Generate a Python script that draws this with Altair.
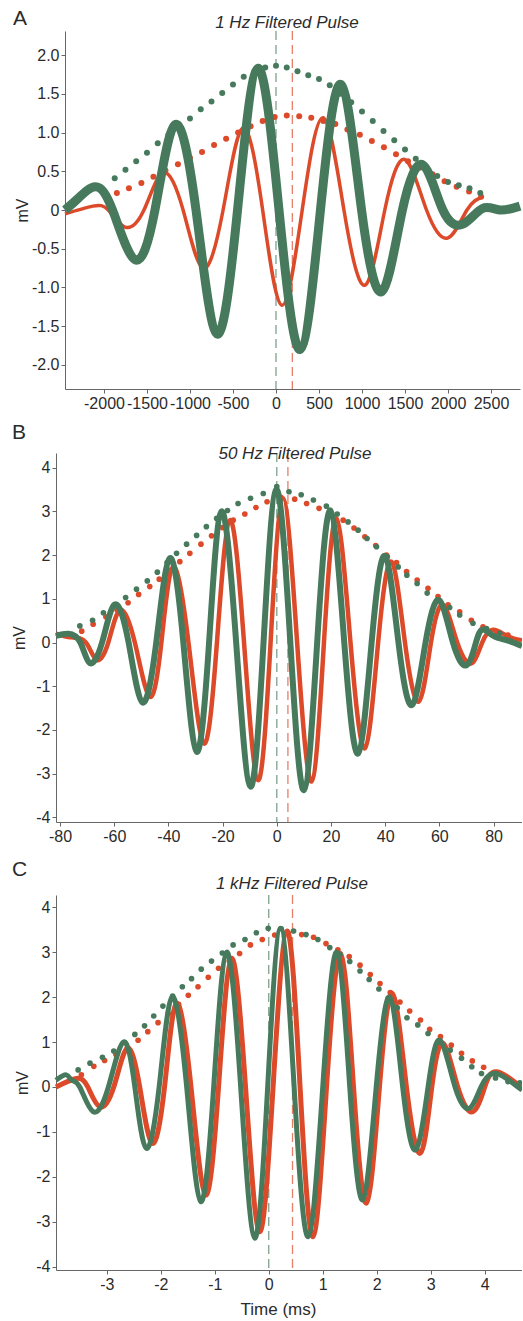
import altair as alt
import pandas as pd

RED = "#dc4a2a"
GREEN = "#477a5c"
FONT = "Liberation Sans"
TXT = "#2b2b2b"

# ---------------- Panel A : 1 Hz ----------------
A_RED_T = [-2453, -2130, -1950, -1756, -1535, -1314, -1080, -849, -615, -384, -155, 70, 305, 547, 790, 1035, 1265, 1500, 1750, 2000, 2220, 2400]
A_RED_V = [-0.05, 0.05, 0.0, -0.22, 0.0, 0.48, 0.0, -0.75, 0.0, 1.06, 0.0, -1.23, 0.0, 1.19, 0.0, -0.97, 0.0, 0.65, 0.0, -0.36, 0.0, 0.17]
A_GREEN_T = [-2453, -2300, -2100, -1900, -1640, -1407, -1174, -930, -686, -447, -209, 35, 279, 517, 756, 995, 1233, 1470, 1709, 1940, 2177, 2400, 2600, 2837]
A_GREEN_V = [0.0, 0.15, 0.3, 0.0, -0.64, 0.0, 1.1, 0.0, -1.6, 0.0, 1.83, 0.0, -1.8, 0.0, 1.62, 0.0, -1.05, 0.0, 0.58, 0.0, -0.18, 0.02, 0.0, 0.05]
A_RDOT_T = [-1850, -1710, -1565, -1425, -1285, -1140, -1000, -860, -720, -580, -440, -295, -155, -15, 125, 270, 410, 550, 690, 830, 975, 1115, 1255, 1395, 1535, 1680, 1820, 1960, 2100, 2245, 2385]
A_RDOT_V = [0.22, 0.28, 0.35, 0.43, 0.51, 0.59, 0.67, 0.75, 0.84, 0.92, 1.00, 1.08, 1.15, 1.20, 1.22, 1.21, 1.19, 1.15, 1.11, 1.04, 0.97, 0.89, 0.81, 0.72, 0.63, 0.55, 0.46, 0.37, 0.30, 0.24, 0.17]
A_GDOT_T = [-1875, -1750, -1625, -1500, -1375, -1250, -1125, -1000, -875, -750, -625, -500, -375, -250, -125, 0, 125, 250, 375, 500, 625, 750, 875, 1000, 1125, 1250, 1375, 1500, 1625, 1750, 1875, 2000, 2125, 2250, 2375]
A_GDOT_V = [0.41, 0.52, 0.63, 0.74, 0.86, 0.97, 1.07, 1.18, 1.30, 1.40, 1.51, 1.62, 1.72, 1.79, 1.84, 1.86, 1.84, 1.79, 1.74, 1.69, 1.61, 1.50, 1.39, 1.27, 1.15, 1.02, 0.90, 0.78, 0.66, 0.55, 0.44, 0.36, 0.32, 0.28, 0.22]
A_XTICKS = [-2000, -1500, -1000, -500, 0, 500, 1000, 1500, 2000, 2500]
A_YTICKS = [-2.0, -1.5, -1.0, -0.5, 0, 0.5, 1.0, 1.5, 2.0]
A_PEAKS = [0, 190]

# ---------------- Panel B : 50 Hz ----------------
B_RED_T = [-81.5, -76, -70.5, -66.5, -62.2, -57.9, -52.4, -46.9, -42.6, -38.3, -32.6, -26.9, -22.1, -17.3, -12.1, -6.9, -2.3, 2.3, 7.5, 12.8, 17.4, 22.0, 27.2, 32.5, 37.4, 42.3, 47.3, 52.4, 56.9, 61.4, 66.6, 71.8, 75.8, 79.8, 85, 90.5]
B_RED_V = [0.2, 0.12, 0.0, -0.40, 0.0, 0.74, 0.0, -1.24, 0.0, 1.73, 0.0, -2.31, 0.0, 2.8, 0.0, -3.15, 0.0, 3.3, 0.0, -3.18, 0.0, 2.84, 0.0, -2.42, 0.0, 1.85, 0.0, -1.35, 0.0, 0.86, 0.0, -0.48, 0.0, 0.29, 0.15, 0.05]
B_GREEN_T = [-81.5, -77, -72.5, -69, -64.5, -59.8, -54.7, -49.6, -44.5, -39.5, -34.5, -29.6, -25, -20.4, -15, -9.7, -4.9, -0.1, 5, 10, 14.9, 19.8, 24.9, 30, 35, 39.9, 44.9, 49.9, 54.9, 59.9, 65, 70, 73.5, 76.1, 80, 85, 90.5]
B_GREEN_V = [0.15, 0.2, 0.0, -0.47, 0.0, 0.87, 0.0, -1.37, 0.0, 1.93, 0.0, -2.5, 0.0, 3.0, 0.0, -3.3, 0.0, 3.5, 0.0, -3.38, 0.0, 3.02, 0.0, -2.54, 0.0, 1.98, 0.0, -1.43, 0.0, 0.97, 0.0, -0.52, 0.0, 0.3, 0.15, 0.05, -0.08]
B_RDOT_T = [-72, -67.8, -63.1, -59, -54.9, -51, -46.9, -43.4, -39.6, -35.8, -32.1, -28, -24.1, -20.1, -16.1, -11.8, -7.7, -3.6, 1.5, 6.6, 11, 15.6, 20, 24.5, 28.5, 32.5, 36.5, 40.5, 44.2, 47.9, 51.8, 55.8, 59.5, 63.2, 67.5, 71.8, 76.1, 81, 85.3]
B_RDOT_V = [0.26, 0.42, 0.59, 0.75, 0.91, 1.1, 1.28, 1.45, 1.65, 1.85, 2.04, 2.25, 2.44, 2.63, 2.80, 2.94, 3.09, 3.22, 3.32, 3.28, 3.18, 3.07, 2.95, 2.80, 2.62, 2.42, 2.22, 2.0, 1.83, 1.62, 1.43, 1.24, 1.05, 0.86, 0.70, 0.51, 0.36, 0.25, 0.17]
B_GDOT_T = [-72.7, -68, -64, -60, -55.8, -51.8, -47.8, -44.1, -40.5, -37, -33.3, -29.6, -26, -22.2, -18.2, -14.3, -9.7, -5, 0, 4.5, 9, 13.5, 18.3, 22.3, 26.3, 30, 33.3, 36.8, 40.8, 44.8, 48, 51.8, 55.5, 59.6, 63.8, 67.5, 72.4, 77.4, 82.3]
B_GDOT_V = [0.38, 0.51, 0.68, 0.85, 1.03, 1.22, 1.41, 1.61, 1.83, 2.04, 2.25, 2.45, 2.65, 2.84, 3.02, 3.18, 3.30, 3.41, 3.57, 3.45, 3.38, 3.26, 3.12, 2.94, 2.76, 2.57, 2.38, 2.19, 1.96, 1.73, 1.54, 1.35, 1.13, 0.96, 0.80, 0.63, 0.44, 0.32, 0.21]
B_XTICKS = [-80, -60, -40, -20, 0, 20, 40, 60, 80]
B_YTICKS = [-4, -3, -2, -1, 0, 1, 2, 3, 4]
B_PEAKS = [0, 4.1]

# ---------------- Panel C : 1 kHz ----------------
C_RED_T = [-3.94, -3.56, -3.35, -3.13, -2.87, -2.62, -2.39, -2.16, -1.93, -1.71, -1.44, -1.17, -0.93, -0.69, -0.43, -0.17, 0.08, 0.34, 0.58, 0.82, 1.07, 1.33, 1.57, 1.81, 2.05, 2.29, 2.55, 2.81, 3.02, 3.23, 3.5, 3.78, 4.0, 4.22, 4.69]
C_RED_V = [0.0, 0.19, 0.0, -0.44, 0.0, 0.86, 0.0, -1.25, 0.0, 1.86, 0.0, -2.4, 0.0, 2.86, 0.0, -3.22, 0.0, 3.47, 0.0, -3.33, 0.0, 2.97, 0.0, -2.58, 0.0, 2.08, 0.0, -1.47, 0.0, 0.97, 0.0, -0.55, 0.0, 0.34, -0.02]
C_GREEN_T = [-3.94, -3.75, -3.65, -3.5, -3.25, -2.97, -2.69, -2.48, -2.27, -2.03, -1.79, -1.52, -1.26, -1.02, -0.78, -0.52, -0.26, -0.02, 0.22, 0.47, 0.73, 1.0, 1.26, 1.5, 1.74, 1.99, 2.24, 2.48, 2.72, 2.95, 3.17, 3.45, 3.72, 3.93, 4.15, 4.40, 4.69]
C_GREEN_V = [0.15, 0.27, 0.15, 0.0, -0.55, 0.0, 1.0, 0.0, -1.36, 0.0, 2.0, 0.0, -2.55, 0.0, 3.0, 0.0, -3.36, 0.0, 3.53, 0.0, -3.33, 0.0, 3.0, 0.0, -2.51, 0.0, 2.0, 0.0, -1.40, 0.0, 1.04, 0.0, -0.47, 0.0, 0.30, 0.19, -0.07]
C_RDOT_T = [-3.47, -3.24, -3.04, -2.83, -2.62, -2.42, -2.24, -2.05, -1.86, -1.67, -1.49, -1.31, -1.12, -0.93, -0.73, -0.54, -0.34, -0.12, 0.11, 0.36, 0.61, 0.83, 1.06, 1.28, 1.49, 1.69, 1.88, 2.06, 2.25, 2.43, 2.61, 2.81, 2.98, 3.18, 3.38, 3.57, 3.77, 3.98, 4.2]
C_RDOT_V = [0.27, 0.46, 0.59, 0.72, 0.86, 1.04, 1.23, 1.43, 1.63, 1.84, 2.04, 2.23, 2.44, 2.64, 2.80, 2.97, 3.16, 3.28, 3.38, 3.42, 3.39, 3.33, 3.19, 3.05, 2.90, 2.71, 2.50, 2.30, 2.10, 1.89, 1.69, 1.49, 1.28, 1.12, 0.93, 0.75, 0.58, 0.44, 0.30]
C_GDOT_T = [-3.53, -3.31, -3.08, -2.87, -2.67, -2.48, -2.30, -2.13, -1.96, -1.78, -1.60, -1.43, -1.25, -1.06, -0.86, -0.66, -0.44, -0.23, -0.01, 0.23, 0.46, 0.69, 0.91, 1.13, 1.32, 1.50, 1.69, 1.86, 2.04, 2.21, 2.38, 2.56, 2.76, 2.95, 3.15, 3.36, 3.57, 3.76, 3.94, 4.2, 4.43, 4.65]
C_GDOT_V = [0.38, 0.53, 0.66, 0.80, 0.99, 1.17, 1.36, 1.58, 1.80, 2.02, 2.23, 2.41, 2.62, 2.80, 2.98, 3.16, 3.28, 3.43, 3.53, 3.52, 3.47, 3.39, 3.28, 3.10, 2.95, 2.79, 2.58, 2.39, 2.18, 1.97, 1.76, 1.54, 1.38, 1.19, 1.0, 0.82, 0.64, 0.45, 0.30, 0.2, 0.12, 0.09]
C_XTICKS = [-3, -2, -1, 0, 1, 2, 3, 4]
C_YTICKS = [-4, -3, -2, -1, 0, 1, 2, 3, 4]
C_PEAKS = [0, 0.44]

DEC_EXPR = "datum.value == 0 ? '0' : (datum.value < 0 ? '-' : '') + format(abs(datum.value), '.1f')"
INT_EXPR = "(datum.value < 0 ? '-' : '') + format(abs(datum.value), 'd')"

TOTAL_W = 466
TOTAL_H = 1239


def df(t, v):
    return pd.DataFrame({"t": t, "v": v})


def panel(red, green, rdot, gdot, peaks, xdom, xrange, ydom, band, yticks, xticks, ylab,
          yoff, mv_x, title, title_xy, letter, letter_xy, red_w, green_w, dot_size,
          xtitle=None):
    top, bottom = band
    xaxis_kw = dict(orient="bottom", values=xticks, labelExpr=INT_EXPR, labelOverlap=False,
                    labelFlush=False, grid=False, tickSize=4, labelPadding=2,
                    labelFontSize=16, offset=bottom - TOTAL_H)
    if xtitle:
        xaxis_kw.update(title=xtitle, titleX=222, titleY=39, titleBaseline="middle",
                        titleAlign="center", titleFontSize=17)
    else:
        xaxis_kw.update(title=None)
    X = alt.X("t:Q", scale=alt.Scale(domain=xdom, nice=False, zero=False, range=xrange),
              axis=alt.Axis(**xaxis_kw))
    Y = alt.Y("v:Q", scale=alt.Scale(domain=ydom, nice=False, zero=False, range=[bottom, top]),
              axis=alt.Axis(orient="left", values=yticks, labelExpr=ylab, grid=False, tickSize=4,
                            labelPadding=2, labelFontSize=16, title="mV",
                            titleX=mv_x, titleY=(top + bottom) / 2, titleBaseline="middle",
                            titleAlign="center", titleFontSize=16, offset=yoff))
    rules = alt.Chart(pd.DataFrame({"t": peaks, "s": ["g", "r"]})).mark_rule(
        strokeDash=[9, 5], strokeWidth=1.3, opacity=0.7
    ).encode(
        x=X,
        color=alt.Color("s:N", scale=alt.Scale(domain=["g", "r"], range=[GREEN, RED]), legend=None),
        y=alt.value(top), y2=alt.value(bottom),
    )
    red_line = alt.Chart(df(*red)).mark_line(color=RED, strokeWidth=red_w, interpolate="natural").encode(x=X, y=Y)
    red_dots = alt.Chart(df(*rdot)).mark_circle(color=RED, size=dot_size, opacity=1).encode(x=X, y=Y)
    green_dots = alt.Chart(df(*gdot)).mark_circle(color=GREEN, size=dot_size, opacity=1).encode(x=X, y=Y)
    green_line = alt.Chart(df(*green)).mark_line(color=GREEN, strokeWidth=green_w, interpolate="natural").encode(x=X, y=Y)
    ttl = alt.Chart(pd.DataFrame({"label": [title]})).mark_text(
        font=FONT, fontSize=17, fontStyle="italic", color=TXT, align="center", baseline="middle"
    ).encode(text="label:N", x=alt.value(title_xy[0]), y=alt.value(title_xy[1]))
    let = alt.Chart(pd.DataFrame({"label": [letter]})).mark_text(
        font=FONT, fontSize=21, color=TXT, align="left", baseline="middle"
    ).encode(text="label:N", x=alt.value(letter_xy[0]), y=alt.value(letter_xy[1]))
    return alt.layer(rules, red_line, red_dots, green_dots, green_line, ttl, let)


# bands (plot-area coordinates, origin at page x=56, y=31)
pA = panel((A_RED_T, A_RED_V), (A_GREEN_T, A_GREEN_V), (A_RDOT_T, A_RDOT_V), (A_GDOT_T, A_GDOT_V),
           A_PEAKS, [-2453, 2837], [9, 464], [-2.31, 2.31], (0, 358), A_YTICKS, A_XTICKS, DEC_EXPR,
           -9, -43, "1 Hz Filtered Pulse", (231, -8), "A", (-43, -12.5), 3.5, 9, 36)
pB = panel((B_RED_T, B_RED_V), (B_GREEN_T, B_GREEN_V), (B_RDOT_T, B_RDOT_V), (B_GDOT_T, B_GDOT_V),
           B_PEAKS, [-81.5, 90.5], [0, 466], [-4.107, 4.336], (422, 791), B_YTICKS, B_XTICKS, INT_EXPR,
           0, -37, "50 Hz Filtered Pulse", (239, 422.5), "B", (-44, 401.5), 4.5, 6, 32)
pC = panel((C_RED_T, C_RED_V), (C_GREEN_T, C_GREEN_V), (C_RDOT_T, C_RDOT_V), (C_GDOT_T, C_GDOT_V),
           C_PEAKS, [-3.94, 4.69], [0, 466], [-4.07, 4.27], (864, 1239), C_YTICKS, C_XTICKS, INT_EXPR,
           0, -34, "1 kHz Filtered Pulse", (236, 853), "C", (-44, 839), 5, 5, 32, xtitle="Time (ms)")

chart = alt.layer(pA, pB, pC).resolve_scale(
    x="independent", y="independent"
).resolve_axis(
    x="independent", y="independent"
).properties(
    width=TOTAL_W, height=TOTAL_H,
    autosize=alt.AutoSizeParams(type="none"),
    padding={"left": 56, "top": 31, "right": 0, "bottom": 50},
).configure_view(stroke=None).configure_axis(
    labelFont=FONT, titleFont=FONT, labelColor=TXT, titleColor=TXT,
    domainColor="#666666", tickColor="#666666", titleFontWeight="normal", grid=False
)

chart.save("out.html", embed_options={"renderer": "svg", "actions": False})
